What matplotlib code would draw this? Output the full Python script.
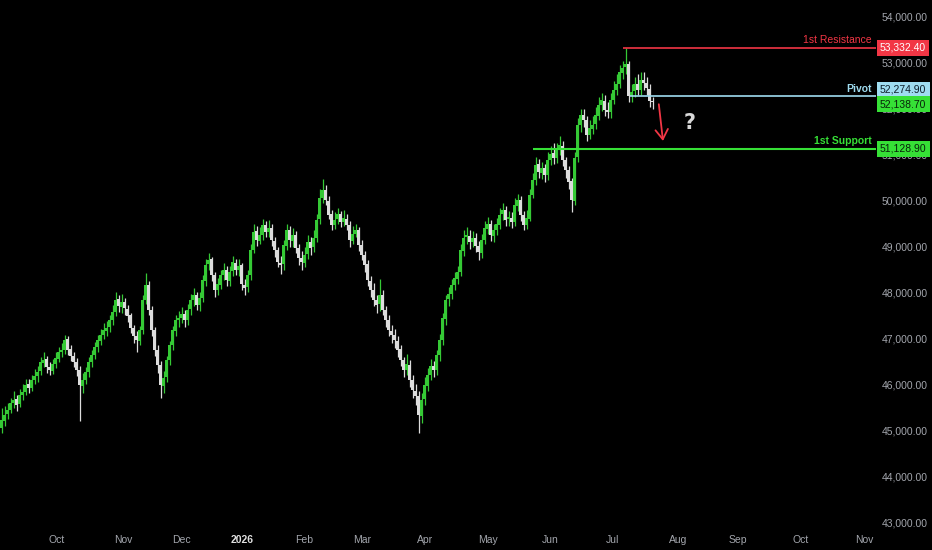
import matplotlib.pyplot as plt
import numpy as np

opens = [45050, 45200, 45350, 45450, 45600, 45680, 45560, 45760, 45840, 46000,
         45910, 46100, 46170, 46280, 46470, 46540, 46380, 46300, 46450, 46560,
         46710, 46740, 46980, 46760, 46610, 46490, 46320, 45970, 46100, 46260,
         46490, 46630, 46820, 46950, 47080, 47170, 47240, 47390, 47580, 47850,
         47690, 47800, 47650, 47500, 47220, 47060, 46950, 47190, 47830, 48170,
         47610, 47190, 46740, 46430, 45970, 46150, 46520, 46860, 47170, 47410,
         47450, 47540, 47390, 47630, 47830, 47950, 47720, 47890, 48260, 48610,
         48720, 48370, 48060, 48170, 48390, 48500, 48260, 48460, 48650, 48480,
         48590, 48170, 48110, 48370, 48930, 49330, 49130, 49260, 49480, 49310,
         49410, 49130, 48930, 48650, 48610, 49020, 49370, 49130, 49260, 48960,
         48760, 48650, 48830, 49090, 48980, 49180, 49590, 50050, 50240, 50000,
         49700, 49460, 49590, 49700, 49540, 49610, 49480, 49130, 49280, 49350,
         49040, 48810, 48610, 48260, 48060, 47830, 47740, 47950, 47610, 47410,
         47170, 47080, 46950, 46760, 46520, 46320, 46430, 46100, 45860, 45750,
         45320, 45670, 45970, 46210, 46390, 46320, 46630, 46970, 47430, 47850,
         47960, 48170, 48300, 48450, 48910, 49200, 49240, 49110, 49180, 49020,
         48870, 49150, 49390, 49500, 49240, 49370, 49480, 49700, 49790, 49590,
         49630, 49540, 49890, 50020, 49680, 49480, 49610, 50130, 50440, 50790,
         50610, 50720, 50550, 50890, 51030, 50920, 51110, 51200, 50890, 50660,
         50420, 50000, 50940, 51640, 51870, 51750, 51440, 51570, 51660, 51850,
         52090, 52180, 51980, 51920, 52200, 52400, 52550, 52790, 52900, 52970,
         52270, 52380, 52530, 52420, 52620, 52570, 52440, 52180]

highs = [45480, 45520, 45600, 45700, 45850, 45760, 45900, 46010, 46120, 46110,
         46200, 46330, 46400, 46600, 46700, 46620, 46480, 46560, 46700, 46820,
         46900, 47080, 47050, 46850, 46700, 46580, 46400, 46250, 46380, 46600,
         46750, 46920, 47080, 47200, 47330, 47380, 47520, 47720, 48000, 47950,
         47960, 47880, 47720, 47560, 47300, 47150, 47280, 47950, 48420, 48250,
         47700, 47250, 46850, 46500, 46300, 46620, 46950, 47280, 47520, 47600,
         47680, 47620, 47750, 47960, 48100, 48020, 48000, 48380, 48720, 48850,
         48780, 48450, 48320, 48500, 48650, 48580, 48580, 48800, 48720, 48720,
         48650, 48300, 48500, 49050, 49500, 49450, 49420, 49600, 49560, 49580,
         49500, 49200, 49000, 48800, 49150, 49500, 49450, 49400, 49330, 49050,
         48900, 49000, 49250, 49200, 49350, 49700, 50250, 50480, 50350, 50100,
         49800, 49750, 49850, 49780, 49800, 49700, 49550, 49450, 49500, 49420,
         49150, 48900, 48700, 48350, 48200, 47950, 48300, 48050, 47700, 47500,
         47300, 47200, 47050, 46850, 46600, 46650, 46520, 46200, 46000, 45850,
         45800, 46150, 46350, 46550, 46500, 46750, 47100, 47550, 47950, 48120,
         48300, 48450, 48580, 49050, 49350, 49420, 49350, 49330, 49300, 49120,
         49280, 49550, 49650, 49580, 49500, 49620, 49850, 49950, 49880, 49780,
         49750, 50050, 50150, 50100, 49780, 49800, 50250, 50600, 50950, 50900,
         50850, 50800, 51050, 51200, 51250, 51250, 51400, 51300, 50950, 50750,
         50500, 51050, 51800, 52000, 52000, 51850, 51750, 51850, 52050, 52250,
         52350, 52300, 52150, 52350, 52600, 52750, 52950, 53050, 53330, 53050,
         52550, 52700, 52750, 52800, 52800, 52700, 52550, 52250]

lows = [44950, 45100, 45250, 45380, 45480, 45420, 45500, 45650, 45760, 45820,
        45850, 46000, 46060, 46200, 46380, 46250, 46200, 46220, 46350, 46480,
        46600, 46660, 46640, 46500, 46380, 46180, 45200, 45800, 46000, 46150,
        46380, 46550, 46700, 46850, 46980, 47050, 47130, 47300, 47480, 47580,
        47560, 47520, 47350, 47120, 46900, 46700, 46850, 47100, 47750, 47500,
        47050, 46620, 46250, 45700, 45820, 46050, 46420, 46750, 47050, 47250,
        47330, 47250, 47300, 47520, 47700, 47620, 47600, 47800, 48150, 48480,
        48250, 47900, 47950, 48080, 48280, 48150, 48150, 48350, 48380, 48350,
        48050, 47950, 48000, 48280, 48850, 49020, 49050, 49150, 49200, 49200,
        49020, 48780, 48550, 48400, 48500, 48920, 49000, 49000, 48850, 48600,
        48500, 48550, 48720, 48820, 48880, 49100, 49500, 49950, 49900, 49600,
        49350, 49380, 49500, 49420, 49450, 49350, 49000, 49050, 49200, 48900,
        48700, 48450, 48150, 47900, 47700, 47550, 47600, 47500, 47250, 47050,
        46900, 46800, 46600, 46400, 46150, 46200, 45950, 45700, 45550, 44950,
        45150, 45550, 45850, 46100, 46150, 46200, 46500, 46850, 47300, 47700,
        47850, 48050, 48180, 48350, 48800, 49050, 48950, 48980, 48880, 48700,
        48750, 49050, 49280, 49120, 49100, 49250, 49380, 49580, 49450, 49450,
        49400, 49450, 49780, 49550, 49350, 49380, 49550, 50050, 50350, 50500,
        50480, 50400, 50450, 50780, 50800, 50820, 51000, 50750, 50500, 50250,
        49750, 49900, 50850, 51500, 51600, 51300, 51350, 51450, 51550, 51750,
        51950, 51850, 51800, 51800, 52100, 52300, 52450, 52650, 52750, 52150,
        52150, 52250, 52300, 52300, 52400, 52300, 52050, 52000]

closes = [45220, 45330, 45440, 45590, 45660, 45550, 45770, 45830, 45980, 45920,
          46090, 46180, 46270, 46480, 46530, 46370, 46310, 46440, 46570, 46700,
          46750, 46960, 46750, 46620, 46480, 46310, 45980, 46090, 46270, 46480,
          46640, 46810, 46960, 47070, 47180, 47230, 47400, 47570, 47840, 47700,
          47790, 47660, 47490, 47230, 47050, 46960, 47180, 47840, 48160, 47620,
          47180, 46750, 46420, 45980, 46140, 46530, 46850, 47180, 47400, 47440,
          47530, 47400, 47620, 47840, 47940, 47730, 47880, 48270, 48600, 48710,
          48380, 48050, 48180, 48380, 48490, 48270, 48450, 48660, 48490, 48580,
          48180, 48100, 48380, 48920, 49320, 49140, 49250, 49470, 49320, 49400,
          49140, 48920, 48660, 48600, 49030, 49360, 49140, 49250, 48970, 48750,
          48660, 48820, 49100, 48970, 49190, 49580, 50060, 50230, 50010, 49690,
          49470, 49580, 49710, 49530, 49620, 49470, 49140, 49270, 49360, 49030,
          48820, 48600, 48270, 48050, 47840, 47730, 47940, 47620, 47400, 47180,
          47070, 46960, 46750, 46530, 46310, 46440, 46090, 45870, 45740, 45330,
          45660, 45980, 46200, 46400, 46310, 46640, 46960, 47440, 47840, 47970,
          48160, 48310, 48440, 48920, 49190, 49250, 49100, 49190, 49010, 48880,
          49140, 49400, 49490, 49250, 49360, 49490, 49690, 49800, 49580, 49640,
          49530, 49900, 50010, 49690, 49470, 49620, 50120, 50450, 50780, 50620,
          50710, 50560, 50880, 51020, 50930, 51100, 51210, 50880, 50670, 50410,
          50010, 50930, 51650, 51860, 51760, 51430, 51580, 51650, 51860, 52080,
          52190, 51970, 51930, 52190, 52410, 52540, 52800, 52890, 52980, 52280,
          52370, 52540, 52410, 52630, 52560, 52450, 52170, 52138.7]

month_labels = ['Oct', 'Nov', 'Dec', '2026', 'Feb', 'Mar', 'Apr', 'May',
                'Jun', 'Jul', 'Aug', 'Sep', 'Oct', 'Nov']
price_ticks = [43000, 44000, 45000, 46000, 47000, 48000, 49000, 50000,
               51000, 52000, 53000, 54000]

resistance = 53332.40
pivot = 52274.90
support = 51128.90
last_price = closes[-1]

UP = '#35c935'
DOWN = '#dcdcdc'
RED = '#f23645'
BLUE = '#9fdcf0'
GREEN = '#36e036'
GREY = '#a3a6ad'

plt.rcParams['font.family'] = ['Liberation Sans', 'DejaVu Sans']

fig = plt.figure(figsize=(9.32, 5.5), dpi=100, facecolor='black')
ax = fig.add_axes([0, 22 / 550, 876 / 932, 528 / 550])
ax.set_facecolor('black')

o = np.array(opens, dtype=float)
h = np.array(highs, dtype=float)
l = np.array(lows, dtype=float)
c = np.array(closes, dtype=float)
x = np.arange(len(c))
cols = np.where(c >= o, UP, DOWN)

ax.vlines(x, l, h, colors=cols, linewidth=0.9, zorder=2)
body = np.maximum(np.abs(c - o), 15)
ax.bar(x, body, bottom=np.minimum(o, c), width=0.8, color=cols,
       linewidth=0, zorder=2)

# level lines
xmax = 876 / 3 - 0.5
ax.hlines(resistance, 207.2, xmax, color=RED, linewidth=1.2, zorder=3)
ax.hlines(pivot, 209.5, xmax, color=BLUE, linewidth=1.2, zorder=3)
ax.hlines(support, 177.2, xmax, color=GREEN, linewidth=1.5, zorder=3)

ax.text(290.2, resistance + 55, '1st Resistance', color=RED, fontsize=7.5,
        ha='right', va='bottom')
ax.text(290.2, pivot + 55, 'Pivot', color=BLUE, fontsize=7.5,
        ha='right', va='bottom', fontweight='bold')
ax.text(290.2, support + 55, '1st Support', color=GREEN, fontsize=7.5,
        ha='right', va='bottom', fontweight='bold')

# price boxes on the axis (pivot box nudged up, as the platform stacks them)
def price_box(val, y, bg, fg):
    ax.text(1.0 + 4 / 876, y, f'{val:,.2f}', transform=ax.get_yaxis_transform(),
            color=fg, fontsize=7.5, ha='left', va='center', zorder=6, clip_on=False,
            bbox=dict(boxstyle='square,pad=0.3', fc=bg, ec='none'))

price_box(resistance, resistance, RED, 'white')
price_box(pivot, pivot + 135, BLUE, '#0c1e2a')
price_box(last_price, last_price - 40, GREEN, '#08220a')
price_box(support, support, GREEN, '#08220a')

# projected move
ax.annotate('', xy=(220.6, 51240), xytext=(219.0, 52160),
            arrowprops=dict(arrowstyle='->,head_length=0.7,head_width=0.45',
                            color=RED, lw=1.3))
ax.text(229.5, 51690, '?', color='#d8d8d8', fontsize=15, fontweight='bold',
        ha='center', va='center', family='DejaVu Sans')

ax.set_xlim(-0.5, xmax)
ax.set_ylim(42870, 54370)

month_px = [57, 123, 181, 242, 304, 362, 425, 488, 550, 612, 678, 738, 801, 864]
ax.set_xticks([p / 3 - 0.5 for p in month_px])
ax.set_xticklabels(month_labels, color=GREY, fontsize=7.5)
ax.get_xticklabels()[3].set_fontweight('bold')
ax.get_xticklabels()[3].set_color('#e0e0e0')
ax.tick_params(axis='x', length=0, pad=5)

ax.yaxis.tick_right()
ax.set_yticks(price_ticks)
ax.set_yticklabels([f'{v:,.2f}' for v in price_ticks], color=GREY, fontsize=7.5)
ax.tick_params(axis='y', length=0, pad=4)

for s in ax.spines.values():
    s.set_visible(False)

fig.savefig('out.png', dpi=100, facecolor='black')
